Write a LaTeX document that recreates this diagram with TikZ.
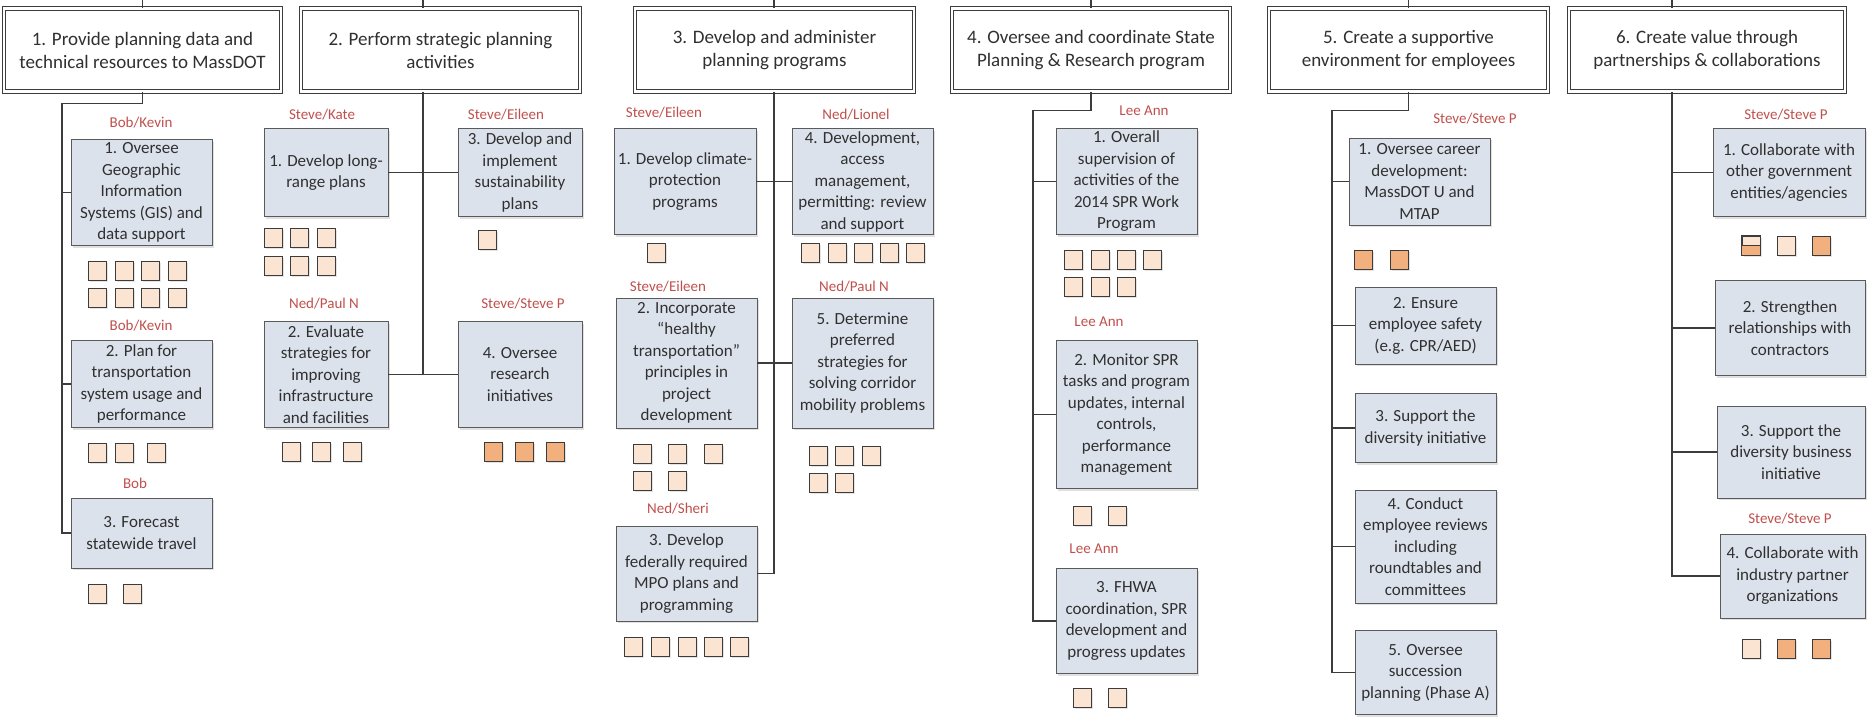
\documentclass[tikz,border=0pt]{standalone}
\usepackage{fontspec}
\setmainfont{Carlito}
\usetikzlibrary{shadows}

\definecolor{taskfill}{HTML}{DCE2EC}
\definecolor{taskline}{HTML}{5A5A5A}
\definecolor{chiplight}{HTML}{FCE4D2}
\definecolor{chipdark}{HTML}{F3B07F}
\definecolor{leadred}{HTML}{C0504D}
\definecolor{linegray}{HTML}{3C3C3C}
\definecolor{textgray}{HTML}{303030}

\tikzset{
  goal/.style={draw=linegray, double=white, double distance=2.5pt, line width=0.9pt,
    fill=white, align=center, text=textgray, inner sep=0pt,
    font=\fontsize{19}{23}\selectfont},
  task/.style={draw=taskline, line width=0.9pt, fill=taskfill, align=center,
    text=textgray, inner sep=0pt, font=\fontsize{17}{21.5}\selectfont,
    drop shadow={shadow xshift=2pt, shadow yshift=-2pt, fill=black!30, opacity=0.4}},
  lead/.style={text=leadred, inner sep=0pt, font=\fontsize{15}{18}\selectfont},
  chip/.style={draw=linegray, line width=0.9pt, fill=chiplight, minimum width=18,
    minimum height=19, inner sep=0pt,
    drop shadow={shadow xshift=1.5pt, shadow yshift=-1.5pt, fill=black!30, opacity=0.35}},
  chipdk/.style={chip, fill=chipdark},
  link/.style={draw=linegray, line width=1.2pt}
}

\begin{document}
\begin{tikzpicture}[x=1pt, y=-1pt]
  \fill[white] (0,0) rectangle (1874,721);
  \useasboundingbox (0,0) rectangle (1874,721);
  \coordinate (top) at (0,0);

  % Goals
  \node[goal, minimum width=277, minimum height=83] (h1) at (142.5,50) {1. Provide planning data and\\technical resources to MassDOT};
  \node[goal, minimum width=279, minimum height=83] (h2) at (440.5,50) {2. Perform strategic planning\\activities};
  \node[goal, minimum width=279, minimum height=83] (h3) at (774.5,50) {3. Develop and administer\\planning programs};
  \node[goal, minimum width=278, minimum height=83] (h4) at (1091,50) {4. Oversee and coordinate State\\Planning \& Research program};
  \node[goal, minimum width=279, minimum height=83] (h5) at (1408.5,50) {5. Create a supportive\\environment for employees};
  \node[goal, minimum width=276, minimum height=83] (h6) at (1707,50) {6. Create value through\\partnerships \& collaborations};

  % First goal
  \node[lead] (l11) at (141,123) {Bob/Kevin};
  \node[task, minimum width=141, minimum height=106] (t11) at (141.5,192.5) {1. Oversee\\Geographic\\Information\\Systems (GIS) and\\data support};
  \foreach \x [count=\i] in {97,124,150,177} {
    \node[chip] (c11a\i) at (\x,271) {};
    \node[chip] (c11b\i) at (\x,297.5) {};
  }
  \node[lead] (l12) at (141,325.5) {Bob/Kevin};
  \node[task, minimum width=141, minimum height=87] (t12) at (141.5,384) {2. Plan for\\transportation\\system usage and\\performance};
  \foreach \x [count=\i] in {97,124,156} \node[chip] (c12\i) at (\x,453) {};
  \node[lead] (l13) at (135,483) {Bob};
  \node[task, minimum width=141, minimum height=70] (t13) at (141.5,533) {3. Forecast\\statewide travel};
  \foreach \x [count=\i] in {97,132} \node[chip] (c13\i) at (\x,594) {};

  \coordinate (k1) at (62,103.5);
  \draw[link] (h1.north) -- (h1.north |- top);
  \draw[link] (h1.south) |- (k1) -- (k1 |- t13.west) -- (t13.west);
  \draw[link] (k1 |- t11.west) -- (t11.west);
  \draw[link] (k1 |- t12.west) -- (t12.west);

  % Second goal
  \node[lead] (l21) at (322,114.5) {Steve/Kate};
  \node[task, minimum width=124, minimum height=88] (t21) at (326,172.5) {1. Develop long-\\range plans};
  \foreach \x [count=\i] in {273,299,326} {
    \node[chip] (c21a\i) at (\x,238) {};
    \node[chip] (c21b\i) at (\x,265.5) {};
  }
  \node[lead] (l23) at (506,114.5) {Steve/Eileen};
  \node[task, minimum width=124, minimum height=88] (t23) at (520,172.5) {3. Develop and\\implement\\sustainability\\plans};
  \node[chip] (c231) at (487,239.5) {};
  \node[lead] (l22) at (324,303.5) {Ned/Paul N};
  \node[task, minimum width=124, minimum height=106] (t22) at (326,374.5) {2. Evaluate\\strategies for\\improving\\infrastructure\\and facilities};
  \foreach \x [count=\i] in {291,321,352} \node[chip] (c22\i) at (\x,452) {};
  \node[lead] (l24) at (523,303.5) {Steve/Steve P};
  \node[task, minimum width=124, minimum height=106] (t24) at (520,374.5) {4. Oversee\\research\\initiatives};
  \foreach \x [count=\i] in {493,524,555} \node[chipdk] (c24\i) at (\x,452) {};

  \coordinate (k2) at (423,0);
  \draw[link] (k2) -- (k2 |- h2.north);
  \draw[link] (k2 |- h2.south) -- (k2 |- t22.east);
  \draw[link] (t21.east) -- (t23.west);
  \draw[link] (t22.east) -- (t24.west);

  % Third goal
  \node[lead] (l31) at (664,113) {Steve/Eileen};
  \node[task, minimum width=142, minimum height=106] (t31) at (685,181.5) {1. Develop climate-\\protection\\programs};
  \node[chip] (c311) at (656,252.5) {};
  \node[lead] (l34) at (856,114.5) {Ned/Lionel};
  \node[task, minimum width=141, minimum height=106] (t34) at (862.5,181.5) {4. Development,\\access\\management,\\permitting: review\\and support};
  \foreach \x [count=\i] in {810,837,863,889,915} \node[chip] (c34\i) at (\x,252.5) {};
  \node[lead] (l32) at (668,287) {Steve/Eileen};
  \node[task, minimum width=141, minimum height=130] (t32) at (686.5,363) {2. Incorporate\\``healthy\\transportation''\\principles in\\project\\development};
  \foreach \x [count=\i] in {642,677,713} \node[chip] (c32a\i) at (\x,453.5) {};
  \foreach \x [count=\i] in {642,677} \node[chip] (c32b\i) at (\x,481) {};
  \node[lead] (l35) at (854,287) {Ned/Paul N};
  \node[task, minimum width=141, minimum height=130] (t35) at (862.5,363) {5. Determine\\preferred\\strategies for\\solving corridor\\mobility problems};
  \foreach \x [count=\i] in {818,844,871} \node[chip] (c35a\i) at (\x,455.5) {};
  \foreach \x [count=\i] in {818,844} \node[chip] (c35b\i) at (\x,482.5) {};
  \node[lead] (l33) at (678,509) {Ned/Sheri};
  \node[task, minimum width=141, minimum height=95] (t33) at (686.5,573.5) {3. Develop\\federally required\\MPO plans and\\programming};
  \foreach \x [count=\i] in {633,660,687,713,739} \node[chip] (c33\i) at (\x,646.5) {};

  \coordinate (k3) at (774,0);
  \draw[link] (k3) -- (k3 |- h3.north);
  \draw[link] (k3 |- h3.south) -- (k3 |- t33.east) -- (t33.east);
  \draw[link] (t31.east) -- (t34.west);
  \draw[link] (t32.east) -- (t35.west);

  % Fourth goal
  \node[lead] (l41) at (1144,110.5) {Lee Ann};
  \node[task, minimum width=141, minimum height=106] (t41) at (1126.5,181.5) {1. Overall\\supervision of\\activities of the\\2014 SPR Work\\Program};
  \foreach \x [count=\i] in {1073,1100,1126,1152} \node[chip] (c41a\i) at (\x,259.5) {};
  \foreach \x [count=\i] in {1073,1100,1126} \node[chip] (c41b\i) at (\x,287) {};
  \node[lead] (l42) at (1099,321.5) {Lee Ann};
  \node[task, minimum width=141, minimum height=148] (t42) at (1126.5,414.5) {2. Monitor SPR\\tasks and program\\updates, internal\\controls,\\performance\\management};
  \foreach \x [count=\i] in {1082,1117} \node[chip] (c42\i) at (\x,515.5) {};
  \node[lead] (l43) at (1094,549) {Lee Ann};
  \node[task, minimum width=141, minimum height=105] (t43) at (1126.5,621) {3. FHWA\\coordination, SPR\\development and\\progress updates};
  \foreach \x [count=\i] in {1082,1117} \node[chip] (c43\i) at (\x,697.5) {};

  \coordinate (k4) at (1033,110.5);
  \draw[link] (h4.north) -- (h4.north |- top);
  \draw[link] (h4.south) |- (k4) -- (k4 |- t43.west) -- (t43.west);
  \draw[link] (k4 |- t41.west) -- (t41.west);
  \draw[link] (k4 |- t42.west) -- (t42.west);

  % Fifth goal
  \node[lead] (l51) at (1475,118.5) {Steve/Steve P};
  \node[task, minimum width=141, minimum height=87] (t51) at (1419.5,181.5) {1. Oversee career\\development:\\MassDOT U and\\MTAP};
  \foreach \x [count=\i] in {1363,1399} \node[chipdk] (c51\i) at (\x,259.5) {};
  \node[task, minimum width=141, minimum height=77] (t52) at (1425.5,325.5) {2. Ensure\\employee safety\\(e.g. CPR/AED)};
  \node[task, minimum width=141, minimum height=69] (t53) at (1425.5,428) {3. Support the\\diversity initiative};
  \node[task, minimum width=141, minimum height=113] (t54) at (1425.5,546.5) {4. Conduct\\employee reviews\\including\\roundtables and\\committees};
  \node[task, minimum width=141, minimum height=84] (t55) at (1425.5,672.5) {5. Oversee\\succession\\planning (Phase A)};

  \coordinate (k5) at (1332,110.5);
  \draw[link] (h5.north) -- (h5.north |- top);
  \draw[link] (h5.south) |- (k5) -- (k5 |- t55.west) -- (t55.west);
  \draw[link] (k5 |- t51.west) -- (t51.west);
  \draw[link] (k5 |- t52.west) -- (t52.west);
  \draw[link] (k5 |- t53.west) -- (t53.west);
  \draw[link] (k5 |- t54.west) -- (t54.west);

  % Sixth goal
  \node[lead] (l61) at (1786,114.5) {Steve/Steve P};
  \node[task, minimum width=152, minimum height=88] (t61) at (1789,172.5) {1. Collaborate with\\other government\\entities/agencies};
  \node[chip] (c611) at (1751,245.5) {};
  \fill[chipdark] (c611.west) rectangle (c611.south east);
  \draw[linegray, line width=0.9pt] (c611.west) -- (c611.east) (c611.south west) rectangle (c611.north east);
  \node[chip] (c612) at (1786,245.5) {};
  \node[chipdk] (c613) at (1821,245.5) {};
  \node[task, minimum width=150, minimum height=95] (t62) at (1790,328) {2. Strengthen\\relationships with\\contractors};
  \node[task, minimum width=148, minimum height=92] (t63) at (1791,452) {3. Support the\\diversity business\\initiative};
  \node[lead] (l64) at (1790,519) {Steve/Steve P};
  \node[task, minimum width=145, minimum height=84] (t64) at (1792.5,576) {4. Collaborate with\\industry partner\\organizations};
  \node[chip] (c641) at (1751,649) {};
  \node[chipdk] (c642) at (1786,649) {};
  \node[chipdk] (c643) at (1821,649) {};

  \coordinate (k6) at (1672,0);
  \draw[link] (k6) -- (k6 |- h6.north);
  \draw[link] (k6 |- h6.south) -- (k6 |- t64.west) -- (t64.west);
  \draw[link] (k6 |- t61.west) -- (t61.west);
  \draw[link] (k6 |- t62.west) -- (t62.west);
  \draw[link] (k6 |- t63.west) -- (t63.west);
\end{tikzpicture}
\end{document}
